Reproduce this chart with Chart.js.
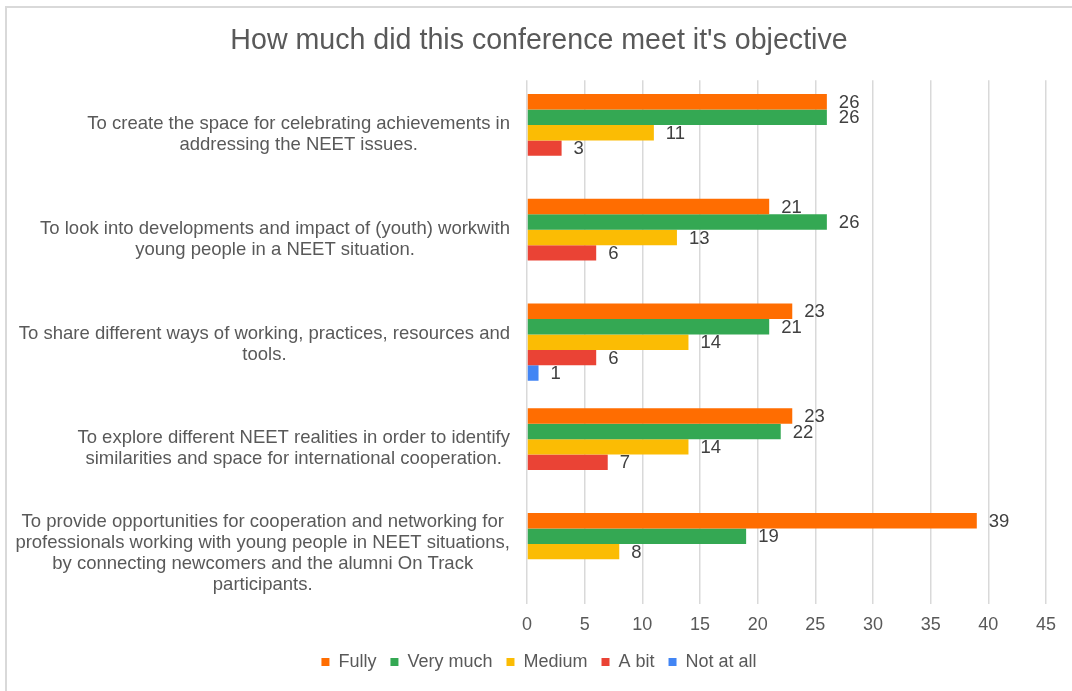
<!DOCTYPE html>
<html>
<head>
<meta charset="utf-8">
<title>How much did this conference meet it's objective</title>
<script src="https://cdn.jsdelivr.net/npm/chart.js"></script>
<style>
    html, body { margin: 0; padding: 0; background: #fff; overflow: hidden; }
    #wrap { position: relative; width: 1072px; height: 691px; overflow: hidden; }
    #frame {
        position: absolute; left: 5px; top: 6px; width: 1100px; height: 720px;
        border-top: 2px solid #d9d9d9; border-left: 2px solid #d9d9d9;
    }
    #chart { position: absolute; left: 0; top: 0; }
</style>
</head>
<body>
<div id="wrap">
    <div id="frame"></div>
    <canvas id="chart" width="1072" height="691"></canvas>
</div>
<script>
// Objectives (category labels, already wrapped as in the original)
const categories = [
    ['To create the space for celebrating achievements in', 'addressing the NEET issues.'],
    ['To look into developments and impact of (youth) workwith', 'young people in a NEET situation.'],
    ['To share different ways of working, practices, resources and', 'tools.'],
    ['To explore different NEET realities in order to identify', 'similarities and space for international cooperation.'],
    ['To provide opportunities for cooperation and networking for', 'professionals working with young people in NEET situations,', 'by connecting newcomers and the alumni On Track', 'participants.']
];

const seriesNames = ['Fully', 'Very much', 'Medium', 'A bit', 'Not at all'];
const fully    = [26, 21, 23, 23, 39];
const veryMuch = [26, 26, 21, 22, 19];
const medium   = [11, 13, 14, 14, 8];
const aBit     = [3, 6, 6, 7, 0];
const notAtAll = [0, 0, 1, 0, 0];

const xTicks = [0, 5, 10, 15, 20, 25, 30, 35, 40, 45];

const colors = ['#ff6d01', '#34a853', '#fbbc04', '#ea4335', '#4285f4'];
const FONT = '"Liberation Sans", Arial, sans-serif';

// Category labels: right-aligned blocks with centred lines, plus value labels
const labelPlugin = {
    id: 'labels',
    afterDatasetsDraw(chart) {
        const ctx = chart.ctx;
        const yScale = chart.scales.y;
        ctx.save();
        ctx.font = '18.5px ' + FONT;
        ctx.fillStyle = '#595959';
        ctx.textAlign = 'center';
        ctx.textBaseline = 'middle';
        const rightEdge = 510;
        const lineH = 21;
        categories.forEach((lines, i) => {
            const cy = yScale.getPixelForValue(i) + 2;
            const maxW = Math.max(...lines.map(l => ctx.measureText(l).width));
            const cx = rightEdge - maxW / 2;
            const y0 = cy - (lines.length - 1) * lineH / 2;
            lines.forEach((l, j) => ctx.fillText(l, cx, y0 + j * lineH));
        });

        ctx.fillStyle = '#404040';
        ctx.textAlign = 'left';
        chart.data.datasets.forEach((ds, di) => {
            const meta = chart.getDatasetMeta(di);
            meta.data.forEach((bar, i) => {
                const v = ds.data[i];
                if (!v) return;
                ctx.fillText(String(v), bar.x + 12, bar.y + 1);
            });
        });
        ctx.restore();
    }
};

const seriesData = [fully, veryMuch, medium, aBit, notAtAll];

new Chart(document.getElementById('chart'), {
    type: 'bar',
    data: {
        labels: categories,
        datasets: seriesNames.map((name, i) => ({
            label: name,
            data: seriesData[i],
            backgroundColor: colors[i],
            borderWidth: 0,
            categoryPercentage: 0.737,
            barPercentage: 1.0
        }))
    },
    options: {
        indexAxis: 'y',
        responsive: false,
        animation: false,
        layout: {
            padding: { top: 12, right: 26, bottom: 10, left: 32 }
        },
        plugins: {
            title: {
                display: true,
                text: "How much did this conference meet it's objective",
                color: '#595959',
                font: { family: FONT, size: 28.6, weight: 'normal' },
                padding: { top: 12, bottom: 22 }
            },
            legend: {
                position: 'bottom',
                labels: {
                    color: '#595959',
                    font: { family: FONT, size: 18 },
                    boxWidth: 8,
                    boxHeight: 8,
                    padding: 14
                }
            },
            tooltip: { enabled: false }
        },
        scales: {
            x: {
                min: 0,
                max: 45,
                afterBuildTicks: (scale) => {
                    scale.ticks = xTicks.map(v => ({ value: v }));
                },
                afterFit: (scale) => { scale.height = 35; },
                grid: { color: '#d9d9d9', lineWidth: 1.5, drawTicks: false },
                border: { display: false },
                ticks: {
                    color: '#595959',
                    font: { family: FONT, size: 18 },
                    padding: 10
                }
            },
            y: {
                afterFit: (scale) => { scale.width = 495; },
                grid: { display: false },
                border: { display: false },
                ticks: { display: false }
            }
        }
    },
    plugins: [labelPlugin]
});
</script>
</body>
</html>
